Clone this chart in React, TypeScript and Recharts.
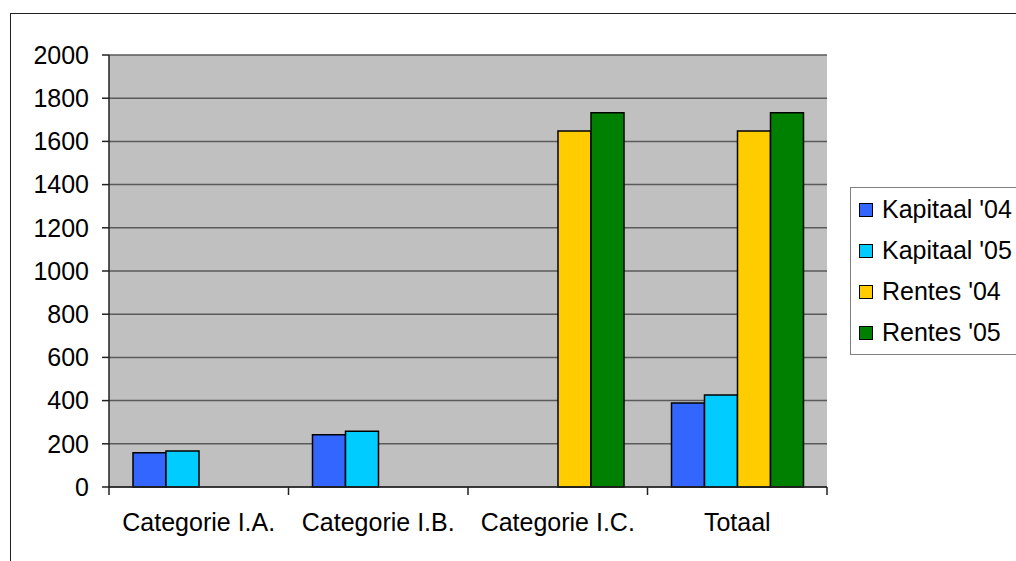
import { BarChart, Bar, XAxis, YAxis, CartesianGrid } from 'recharts';

const categories = ['Categorie I.A.', 'Categorie I.B.', 'Categorie I.C.', 'Totaal'];
const kapitaal04 = [159, 242, null, 389];
const kapitaal05 = [167, 258, null, 426];
const rentes04 = [null, null, 1648, 1648];
const rentes05 = [null, null, 1733, 1733];
const yTicks = [0, 200, 400, 600, 800, 1000, 1200, 1400, 1600, 1800, 2000];

const series = [
  { key: 'kap04', name: "Kapitaal '04", color: '#3366FF', values: kapitaal04 },
  { key: 'kap05', name: "Kapitaal '05", color: '#00CCFF', values: kapitaal05 },
  { key: 'ren04', name: "Rentes '04", color: '#FFCC00', values: rentes04 },
  { key: 'ren05', name: "Rentes '05", color: '#008000', values: rentes05 },
];

const data = categories.map((name, i) => {
  const row: Record<string, string | number | null> = { name };
  series.forEach((s) => {
    row[s.key] = s.values[i];
  });
  return row;
});

const W = 1016;
const H = 561;
const MARGIN = { top: 55, right: 189, left: 0, bottom: 0 };
const Y_AXIS_W = 109;
const X_AXIS_H = 74;
const FONT = '"Liberation Sans", Arial, sans-serif';
const FONT_SIZE = 25;
const PLOT_W = W - MARGIN.left - MARGIN.right - Y_AXIS_W;
const HALF_BAND = PLOT_W / categories.length / 2;
const X_TICK = 8;

function CategoryTick(props: any) {
  const { x, y, payload, index } = props;
  const axisY = y - X_TICK;
  const last = index === categories.length - 1;
  return (
    <g>
      <line x1={x - HALF_BAND} y1={axisY} x2={x - HALF_BAND} y2={axisY + X_TICK} stroke="#222" strokeWidth={1.5} />
      {last && (
        <line x1={x + HALF_BAND} y1={axisY} x2={x + HALF_BAND} y2={axisY + X_TICK} stroke="#222" strokeWidth={1.5} />
      )}
      <text x={x} y={axisY + 44} textAnchor="middle" fontSize={FONT_SIZE} fontFamily={FONT} fill="#000">
        {payload.value}
      </text>
    </g>
  );
}

function LegendBox() {
  return (
    <div
      style={{
        position: 'absolute',
        left: 850,
        top: 187,
        width: 200,
        height: 168,
        border: '1.5px solid #808080',
        background: '#fff',
        boxSizing: 'border-box',
        paddingTop: 1,
      }}
    >
      {series.map((s) => (
        <div key={s.key} style={{ display: 'flex', alignItems: 'center', height: 41, fontFamily: FONT, fontSize: FONT_SIZE }}>
          <span
            style={{
              display: 'inline-block',
              width: 12,
              height: 12,
              marginLeft: 8,
              marginRight: 9,
              background: s.color,
              border: '1.5px solid #000',
            }}
          />
          <span style={{ whiteSpace: 'nowrap' }}>{s.name}</span>
        </div>
      ))}
    </div>
  );
}

export default function App() {
  return (
    <div style={{ position: 'absolute', left: 0, top: 0, width: W, height: H, overflow: 'hidden', background: '#fff' }}>
      <div
        style={{
          position: 'absolute',
          left: 10,
          top: 13,
          width: W + 40,
          height: H + 40,
          border: '1.5px solid #222',
        }}
      />
      <div style={{ position: 'absolute', left: 0, top: 0 }}>
        <BarChart width={W} height={H} data={data} margin={MARGIN} barCategoryGap={24} barGap={0}>
          <CartesianGrid vertical={false} fill="#C0C0C0" stroke="#5a5a5a" strokeWidth={1.5} />
          <XAxis
            dataKey="name"
            height={X_AXIS_H}
            axisLine={{ stroke: '#222', strokeWidth: 1.5 }}
            tickLine={false}
            tickSize={X_TICK}
            tickMargin={0}
            interval={0}
            tick={<CategoryTick />}
          />
          <YAxis
            width={Y_AXIS_W}
            domain={[0, 2000]}
            ticks={yTicks}
            interval={0}
            tickSize={7}
            tickMargin={13}
            axisLine={{ stroke: '#222', strokeWidth: 1.5 }}
            tickLine={{ stroke: '#222', strokeWidth: 1.5 }}
            tick={{ fontSize: FONT_SIZE, fontFamily: FONT, fill: '#000' }}
          />
          <YAxis
            yAxisId="frame"
            orientation="right"
            width={0}
            domain={[0, 2000]}
            tick={false}
            tickLine={false}
            axisLine={{ stroke: '#808080', strokeWidth: 2 }}
          />
          {series.map((s) => (
            <Bar
              key={s.key}
              dataKey={s.key}
              name={s.name}
              fill={s.color}
              stroke="#000"
              strokeWidth={1.5}
              isAnimationActive={false}
            />
          ))}
        </BarChart>
      </div>
      <LegendBox />
    </div>
  );
}
